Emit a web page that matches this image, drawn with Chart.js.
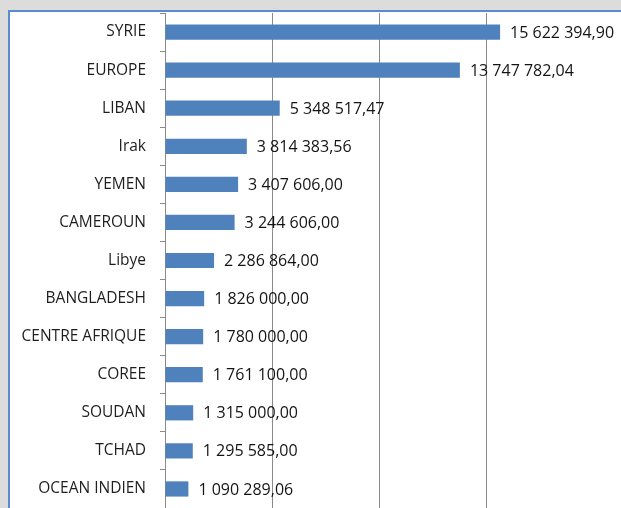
<!DOCTYPE html>
<html lang="fr">
<head>
<meta charset="utf-8">
<title>Montants par pays</title>
<script src="https://cdn.jsdelivr.net/npm/chart.js@4.4.1/dist/chart.umd.min.js"></script>
<style>
  html, body { margin: 0; padding: 0; overflow: hidden; }
  body { width: 621px; height: 508px; position: relative; background: #dcdcdc; }
  .cadre {
    position: absolute; left: 8px; top: 10px; right: -30px; bottom: -30px;
    background: #fff;
    border-left: 2px solid #5a8ad0; border-top: 2px solid #5a8ad0;
  }
  #graphique { position: absolute; left: 0; top: 0; }
</style>
</head>
<body>
<div class="cadre"></div>
<canvas id="graphique" width="621" height="508"></canvas>
<script>
// Pays / zones et montants
const categories = ['SYRIE', 'EUROPE', 'LIBAN', 'Irak', 'YEMEN', 'CAMEROUN', 'Libye',
    'BANGLADESH', 'CENTRE AFRIQUE', 'COREE', 'SOUDAN', 'TCHAD', 'OCEAN INDIEN'];
const montants = [15622394.90, 13747782.04, 5348517.47, 3814383.56, 3407606.00, 3244606.00,
    2286864.00, 1826000.00, 1780000.00, 1761100.00, 1315000.00, 1295585.00, 1090289.06];
const graduations = [0, 5000000, 10000000, 15000000, 20000000];

const POLICE = '"Open Sans", Lato, sans-serif';

// 15622394.9 -> "15 622 394,90"
function formatMontant(v) {
    const [ent, dec] = v.toFixed(2).split('.');
    return ent.replace(/\B(?=(\d{3})+(?!\d))/g, ' ') + ',' + dec;
}

// Étiquettes de valeur à droite des barres
const etiquettes = {
    id: 'etiquettes',
    afterDatasetsDraw(chart) {
        const ctx = chart.ctx;
        const meta = chart.getDatasetMeta(0);
        ctx.save();
        ctx.font = '16px ' + POLICE;
        ctx.fillStyle = '#141414';
        ctx.textAlign = 'left';
        ctx.textBaseline = 'middle';
        meta.data.forEach((bar, i) => {
            ctx.fillText(formatMontant(montants[i]), bar.x + 10, bar.y + 1);
        });
        ctx.restore();
    }
};

new Chart(document.getElementById('graphique'), {
    type: 'bar',
    data: {
        labels: categories,
        datasets: [{
            data: montants,
            backgroundColor: '#4f81bd',
            borderWidth: 0,
            barPercentage: 0.4,
            categoryPercentage: 1
        }]
    },
    options: {
        indexAxis: 'y',
        responsive: false,
        animation: false,
        layout: { padding: { top: 13, right: 27, bottom: 0, left: 0 } },
        plugins: { legend: { display: false }, tooltip: { enabled: false } },
        scales: {
            x: {
                min: graduations[0],
                max: graduations[graduations.length - 1],
                afterBuildTicks: s => { s.ticks = graduations.map(v => ({ value: v })); },
                afterFit: s => { s.height = 0; s.paddingLeft = 0; s.paddingRight = 0; },
                ticks: { display: false },
                border: { display: false },
                grid: {
                    drawTicks: false,
                    lineWidth: 1,
                    color: c => (c.tick.value === 0 || c.tick.value === 20000000) ? 'rgba(0,0,0,0)' : '#8a8a8a'
                }
            },
            y: {
                afterFit: s => { s.width = 165; s.paddingTop = 0; s.paddingBottom = 0; },
                border: { color: '#8a8a8a' },
                grid: { drawOnChartArea: false, color: '#8a8a8a', tickLength: 5 },
                ticks: { color: '#1e1e1e', padding: 14, font: { family: POLICE, size: 15.5 } }
            }
        }
    },
    plugins: [etiquettes]
});
</script>
</body>
</html>
